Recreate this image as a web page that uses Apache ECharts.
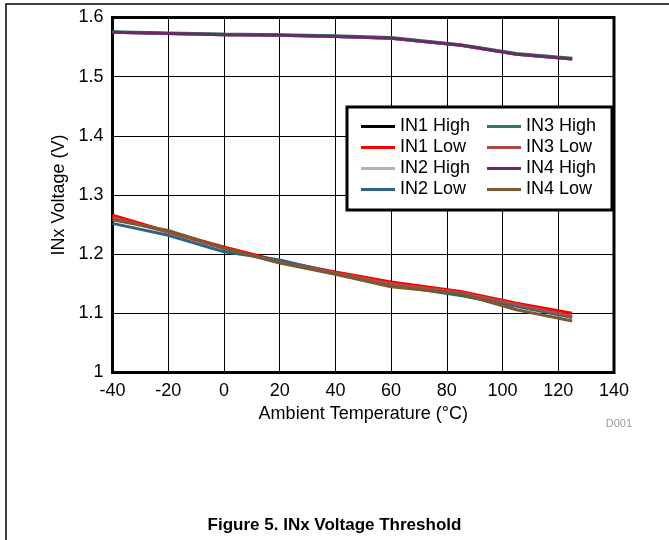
<!DOCTYPE html>
<html>
<head>
<meta charset="utf-8">
<script src="https://cdn.jsdelivr.net/npm/echarts@6/dist/echarts.min.js"></script>
<style>html,body{margin:0;padding:0;background:#fff;}#c{width:669px;height:540px;}</style>
</head>
<body>
<div id="c"></div>
<script>
const temps = [-40, -20, 0, 20, 40, 60, 85, 105, 125];
const in1High = [1.575, 1.573, 1.571, 1.570, 1.568, 1.565, 1.553, 1.538, 1.530];
const in1Low  = [1.266, 1.238, 1.212, 1.188, 1.170, 1.153, 1.137, 1.117, 1.100];
const in2High = [1.575, 1.573, 1.571, 1.570, 1.568, 1.565, 1.553, 1.538, 1.530];
const in2Low  = [1.252, 1.232, 1.204, 1.190, 1.168, 1.148, 1.130, 1.112, 1.093];
const in3High = [1.576, 1.574, 1.572, 1.571, 1.569, 1.566, 1.554, 1.539, 1.531];
const in3Low  = [1.262, 1.237, 1.210, 1.186, 1.168, 1.150, 1.135, 1.115, 1.095];
const in4High = [1.575, 1.573, 1.571, 1.570, 1.568, 1.565, 1.553, 1.538, 1.530];
const in4Low  = [1.258, 1.240, 1.210, 1.185, 1.166, 1.145, 1.133, 1.106, 1.087];
const seriesNames = ['IN1 High','IN1 Low','IN2 High','IN2 Low','IN3 High','IN3 Low','IN4 High','IN4 Low'];
const seriesData = [in1High, in1Low, in2High, in2Low, in3High, in3Low, in4High, in4Low];
const colors = ['#000000','#ff0000','#b4b4b4','#2f6383','#2e7a58','#b04a4a','#6a2a6a','#7a5a2e'];
const xTicks = [-40, -20, 0, 20, 40, 60, 80, 100, 120, 140];
const yTicks = [1, 1.1, 1.2, 1.3, 1.4, 1.5, 1.6];

const FONT = 'Liberation Sans, Arial, sans-serif';
const chart = echarts.init(document.getElementById('c'), null, {renderer: 'canvas'});

const series = seriesNames.map((n, i) => ({
  name: n,
  type: 'line',
  data: temps.map((t, k) => [t, seriesData[i][k]]),
  showSymbol: false,
  symbol: 'none',
  lineStyle: {color: colors[i], width: 3},
  itemStyle: {color: colors[i]},
  z: 2,
  animation: false
}));

const legendCommon = {
  orient: 'vertical',
  icon: 'rect',
  itemWidth: 34,
  itemHeight: 3,
  itemGap: 3,
  itemTextGap: 12,
  padding: 0,
  selectedMode: false,
  textStyle: {fontFamily: FONT, fontSize: 18, color: '#000', lineHeight: 18}
};

chart.setOption({
  animation: false,
  backgroundColor: '#fff',
  grid: {left: 112.5, right: 55, top: 17.5, bottom: 167.5, show: true, borderColor: '#000', borderWidth: 3, backgroundColor: 'transparent'},
  xAxis: {
    type: 'value', min: xTicks[0], max: xTicks[xTicks.length-1], interval: 20,
    name: 'Ambient Temperature (°C)', nameLocation: 'middle', nameGap: 31,
    nameTextStyle: {fontFamily: FONT, fontSize: 18, color: '#000'},
    axisLine: {show: false}, axisTick: {show: false},
    axisLabel: {fontFamily: FONT, fontSize: 18, color: '#000', margin: 10},
    splitLine: {show: true, lineStyle: {color: '#000', width: 1}}
  },
  yAxis: {
    type: 'value', min: yTicks[0], max: yTicks[yTicks.length-1], interval: 0.1,
    name: 'INx Voltage (V)', nameLocation: 'middle', nameGap: 41,
    nameTextStyle: {fontFamily: FONT, fontSize: 18, color: '#000'},
    axisLine: {show: false}, axisTick: {show: false},
    axisLabel: {fontFamily: FONT, fontSize: 18, color: '#000', margin: 9,
      formatter: v => String(Math.round(v * 10) / 10)},
    splitLine: {show: true, lineStyle: {color: '#000', width: 1}}
  },
  legend: [
    Object.assign({}, legendCommon, {left: 361, top: 117.5, data: seriesNames.slice(0, 4)}),
    Object.assign({}, legendCommon, {left: 487, top: 117.5, data: seriesNames.slice(4)})
  ],
  title: {
    text: 'Figure 5. INx Voltage Threshold', left: 'center', top: 512,
    textStyle: {fontFamily: FONT, fontSize: 17, fontWeight: 'bold', color: '#000'}
  },
  graphic: [
    {type: 'polyline', shape: {points: [[6, 540], [6, 4], [669, 4]]}, style: {stroke: '#000', lineWidth: 1.5, fill: null}, z: 10},
    {type: 'rect', shape: {x: 347, y: 107, width: 265, height: 103}, style: {stroke: '#000', lineWidth: 3, fill: '#fff'}, z: 3},
    {type: 'text', style: {text: 'D001', x: 632, y: 418, align: 'right', fill: '#999', fontFamily: FONT, fontSize: 11}, z: 10}
  ],
  series: series
});
</script>
</body>
</html>
